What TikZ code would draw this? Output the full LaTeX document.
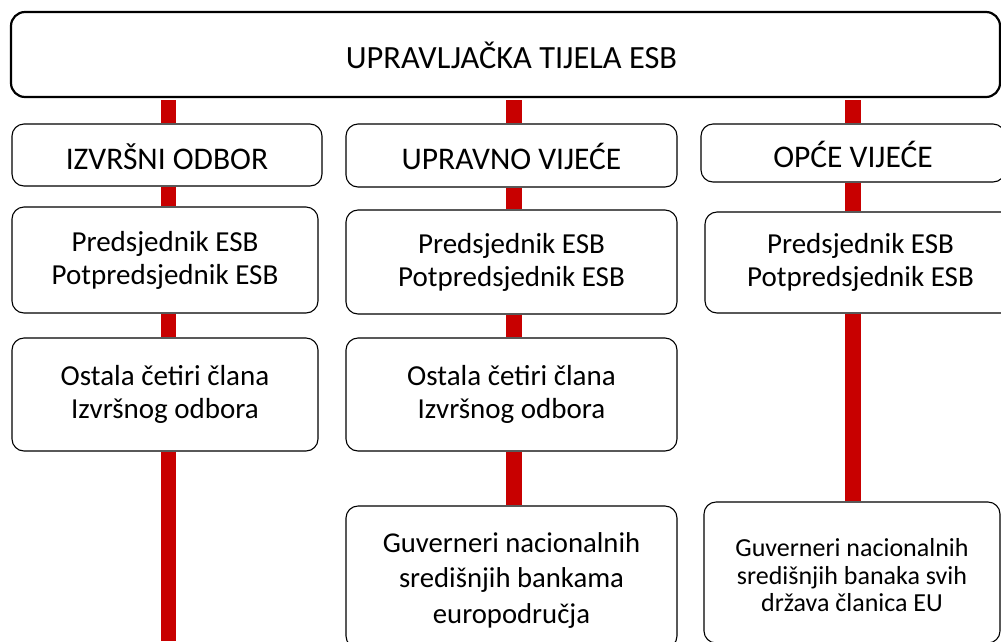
\documentclass[tikz,border=0pt]{standalone}
\usepackage{fontspec}
\setmainfont{Carlito}
\usetikzlibrary{backgrounds}
\definecolor{barred}{RGB}{200,0,0}
\tikzset{
  box/.style={draw=black, line width=1.1pt, fill=white, rounded corners=12pt, align=center, inner sep=0pt},
  topbox/.style={box, line width=2.2pt, rounded corners=14pt},
  head/.style={font=\fontsize{31.5}{34}\selectfont, text height=28pt, text depth=0pt},
  body/.style={font=\fontsize{29}{33}\selectfont},
  guvtext/.style={font=\fontsize{28.7}{35.5}\selectfont},
  small/.style={font=\fontsize{26}{27.5}\selectfont},
  bar/.style={draw=barred, line width=15.5pt, line cap=butt}
}
\begin{document}
\begin{tikzpicture}[x=1pt, y=-1pt]
\clip (0,0) rectangle (1001,641);
% top
\node[topbox, head, font=\fontsize{32.4}{34}\selectfont, minimum width=989, minimum height=85] (top) at (505.5,54.5) {\hspace*{12pt}UPRAVLJAČKA TIJELA ESB};
% column 1
\node[box, head, minimum width=310, minimum height=62] (iz) at (167,155) {IZVRŠNI ODBOR};
\node[box, body, minimum width=306, minimum height=106] (p1) at (165,260) {Predsjednik ESB\\Potpredsjednik ESB};
\node[box, body, minimum width=306, minimum height=113] (o1) at (165,394.5) {Ostala četiri člana\\Izvršnog odbora};
% column 2
\node[box, head, minimum width=331, minimum height=63] (upr) at (511.5,155.5) {UPRAVNO VIJEĆE};
\node[box, body, minimum width=331, minimum height=104] (p2) at (511.5,262) {Predsjednik ESB\\Potpredsjednik ESB};
\node[box, body, minimum width=331, minimum height=113] (o2) at (511.5,394.5) {Ostala četiri člana\\Izvršnog odbora};
\node[box, guvtext, minimum width=331, minimum height=142] (g2) at (511.5,577) {\rule{0pt}{26pt}Guverneri nacionalnih\\središnjih bankama\\europodručja};
% column 3
\node[box, head, minimum width=304, minimum height=58] (opc) at (853,153) {OPĆE VIJEĆE};
\node[box, body, minimum width=311, minimum height=101] (p3) at (860.5,262.5) {Predsjednik ESB\\Potpredsjednik ESB};
\node[box, small, minimum width=296, minimum height=141] (g3) at (852,572.5) {\rule{0pt}{24pt}Guverneri nacionalnih\\središnjih banaka svih\\država članica EU};
% bar positions
\coordinate (x1) at (168.5,0);
\coordinate (x2) at (514,0);
\coordinate (x3) at (853,0);
\coordinate (end1) at (168.5,641);
\begin{scope}[on background layer]
\draw[bar] ([yshift=-2pt]top.south -| x1) -- (iz.north -| x1);
\draw[bar] (iz.south -| x1) -- (p1.north -| x1);
\draw[bar] (p1.south -| x1) -- (o1.north -| x1);
\draw[bar] (o1.south -| x1) -- (end1);
\draw[bar] ([yshift=-2pt]top.south -| x2) -- (upr.north -| x2);
\draw[bar] (upr.south -| x2) -- (p2.north -| x2);
\draw[bar] (p2.south -| x2) -- (o2.north -| x2);
\draw[bar] (o2.south -| x2) -- (g2.north -| x2);
\draw[bar] ([yshift=-2pt]top.south -| x3) -- (opc.north -| x3);
\draw[bar] (opc.south -| x3) -- (p3.north -| x3);
\draw[bar] (p3.south -| x3) -- (g3.north -| x3);
\end{scope}
\end{tikzpicture}
\end{document}
